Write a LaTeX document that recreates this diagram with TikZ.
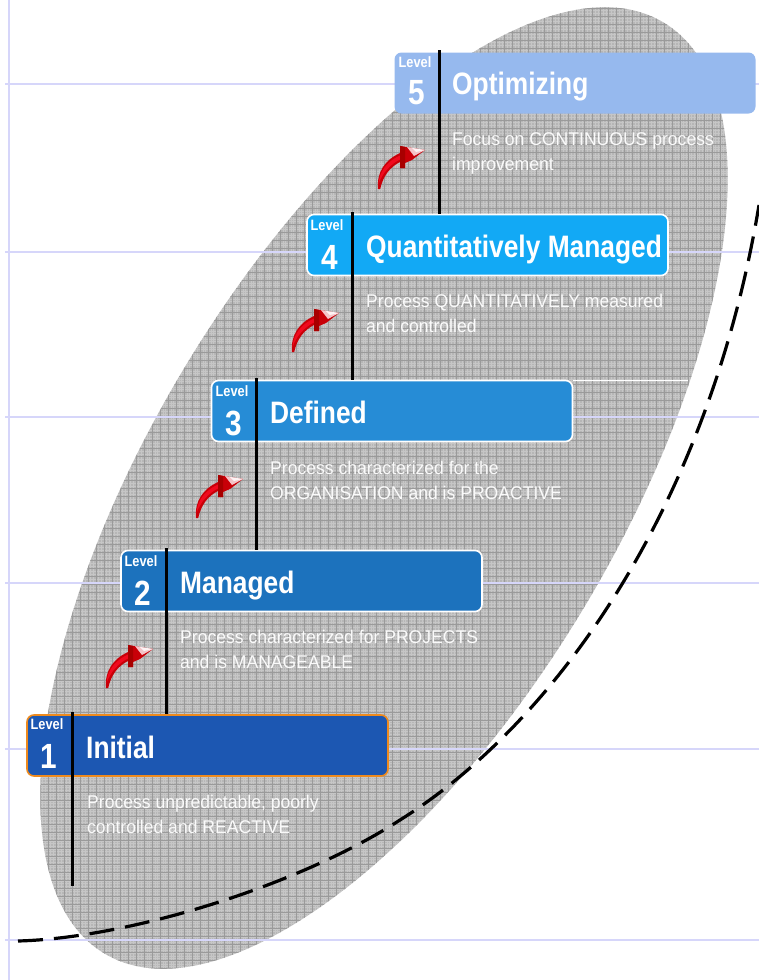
\documentclass[tikz,border=0pt]{standalone}
\usepackage{fontspec}
\setmainfont{Liberation Sans}[FakeStretch=0.85]
\newfontfamily\descfont{Liberation Sans}[FakeStretch=0.955]
\definecolor{c1}{HTML}{1C57B2}
\definecolor{c2}{HTML}{1C72BD}
\definecolor{c3}{HTML}{268CD6}
\definecolor{c4}{HTML}{12A9F5}
\definecolor{c5}{HTML}{96B9EE}
\definecolor{edgeor}{HTML}{EE8A1D}
\definecolor{guide}{HTML}{D6D6FA}
\definecolor{ellbase}{HTML}{B6B6B6}
\definecolor{griddark}{HTML}{9A9A9A}
\definecolor{arrowmain}{HTML}{C80008}
\definecolor{arrowlight}{HTML}{F00A1E}
\definecolor{arrowdark}{HTML}{A80000}
\definecolor{arrowpale}{HTML}{F4C4C8}
\tikzset{
  levelbox/.style={rectangle,rounded corners=7pt,minimum width=#1,minimum height=61pt,inner sep=0pt,draw=white,line width=1.6pt},
  leveltag/.style={anchor=center,text=white,font=\bfseries\fontsize{15}{15}\selectfont,inner sep=0pt},
  levelnum/.style={anchor=center,text=white,font=\bfseries\fontsize{35}{35}\selectfont,inner sep=0pt},
  leveltitle/.style={anchor=base west,text=white,font=\bfseries\fontsize{31}{32}\selectfont,inner sep=0pt},
  leveldesc/.style={anchor=north west,text=white,text opacity=.94,align=left,inner sep=0pt,font=\descfont\fontsize{18.4}{25}\selectfont},
  stem/.style={black,line width=3pt},
  guideline/.style={guide,line width=2pt},
  stairarrow/.pic={
    \fill[arrowmain] (0,0) .. controls (-1.5,-17) and (7,-29) .. (22,-36) -- (22,-43) -- (47,-39) -- (34,-29) -- (27,-26) -- (27,-21) -- (22,-21) -- (22,-27) .. controls (12,-22) and (5,-13) .. (2.2,0) -- cycle;
    \fill[arrowlight] (.6,-5) .. controls (1,-17) and (9,-28) .. (23,-34) -- (23,-30) .. controls (12,-25) and (4,-15) .. (.6,-5) -- cycle;
    \fill[arrowdark] (22,-43) -- (27,-42) -- (27,-21) -- (22,-21) -- cycle;
    \fill[arrowpale] (29,-42) -- (47,-39) -- (36,-33) -- cycle;
    \fill[white!80!arrowpale] (34,-41) -- (47,-39) -- (38,-37) -- cycle;
  }
}
\begin{document}
\begin{tikzpicture}[x=1pt,y=-1pt]
\path[use as bounding box] (0,0) rectangle (759,980);
% ellipse with its screen texture
\begin{scope}
  \clip[shift={(384,488)},rotate=59] (0,0) ellipse [x radius=543pt,y radius=233pt];
  \fill[ellbase] (0,0) rectangle (759,980);
  \draw[white,opacity=.22,line width=.7pt,step=2.67pt] (0,0) grid (759,980);
  \draw[griddark,line width=.75pt,step=8pt] (0,0) grid (759,980);
\end{scope}
% guide lines
\draw[guideline,line width=2.6pt] (9,0) -- (9,980);
\foreach \gy in {84,252,417,583,749,940}{\draw[guideline] (5,\gy) -- (759,\gy);}
\draw[white,line width=.7pt] (573,380) -- (688,380);
% dashed curve
\coordinate (cs) at (18,941);
\coordinate (ce) at (759,205);
\draw[black,line width=3.2pt,dash pattern=on 25pt off 11pt]
  (cs) .. controls (130,938) and (300,885) .. (400,820)
       .. controls (560,720) and (710,500) .. (ce);
% boxes
\node[levelbox=361pt,fill=c5,draw=none] (b5) at (575,83) {};
\node[levelbox=361pt,fill=c4] (b4) at (487.5,245) {};
\node[levelbox=361pt,fill=c3] (b3) at (392,411) {};
\node[levelbox=361pt,fill=c2] (b2) at (301.5,581) {};
\node[levelbox=361pt,fill=c1,draw=edgeor] (b1) at (207.5,745.5) {};
% stems
\coordinate (s5) at (439,50);
\coordinate (s4) at (352,212);
\coordinate (s3) at (256,378);
\coordinate (s2) at (166,548);
\coordinate (s1) at (72,712);
\coordinate (s0) at (72,886);
\draw[stem] (s5) -- (s5 |- b4.north);
\draw[stem] (s4) -- (s4 |- b3.north);
\draw[stem] (s3) -- (s3 |- b2.north);
\draw[stem] (s2) -- (s2 |- b1.north);
\draw[stem] (s1) -- (s0);
% level labels
\node[leveltag] (l5) at (415,62) {Level};
\node[levelnum] (n5) at (417,93) {5};
\node[leveltitle] (t5) at (452,94) {Optimizing};
\node[leveltag] (l4) at (327,225) {Level};
\node[levelnum] (n4) at (330,257) {4};
\node[leveltitle] (t4) at (366,257) {Quantitatively Managed};
\node[leveltag] (l3) at (232,391) {Level};
\node[levelnum] (n3) at (234,423) {3};
\node[leveltitle] (t3) at (270,423) {Defined};
\node[leveltag] (l2) at (141,561) {Level};
\node[levelnum] (n2) at (143,593) {2};
\node[leveltitle] (t2) at (180,593) {Managed};
\node[leveltag] (l1) at (47,724) {Level};
\node[levelnum] (n1) at (49,756) {1};
\node[leveltitle] (t1) at (86,758) {Initial};
% descriptions
\node[leveldesc] (d5) at (452,132) {Focus on CONTINUOUS process\\improvement};
\node[leveldesc] (d4) at (366,294) {Process QUANTITATIVELY measured\\and controlled};
\node[leveldesc] (d3) at (270,461) {Process characterized for the\\ORGANISATION and is PROACTIVE};
\node[leveldesc] (d2) at (180,630) {Process characterized for PROJECTS\\and is MANAGEABLE};
\node[leveldesc] (d1) at (87,795) {Process unpredictable, poorly\\controlled and REACTIVE};
% arrows
\pic at (378,189) {stairarrow};
\pic at (292,352) {stairarrow};
\pic at (196,518) {stairarrow};
\pic at (106,688) {stairarrow};
\end{tikzpicture}
\end{document}
